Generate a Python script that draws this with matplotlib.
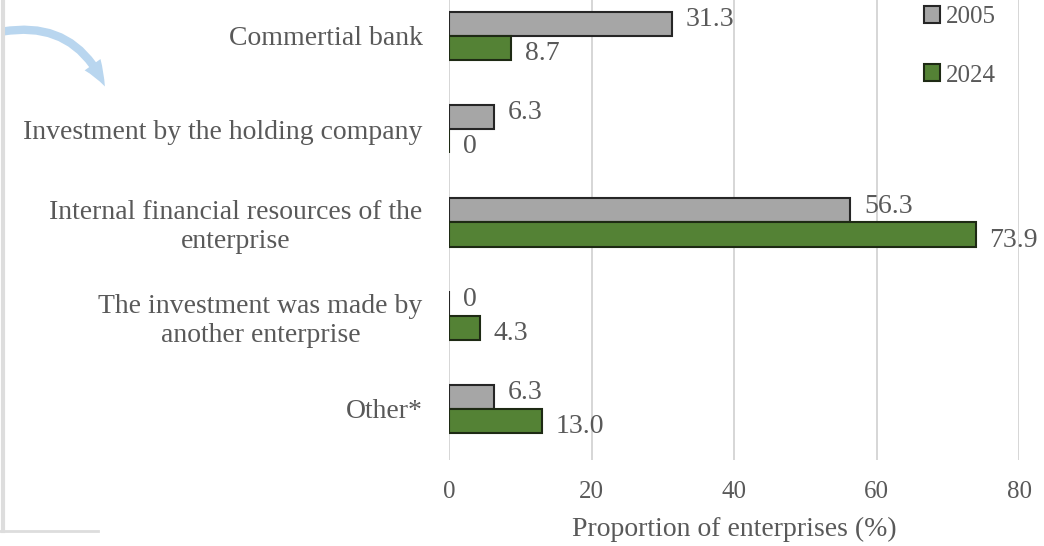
import matplotlib
matplotlib.use("Agg")
import matplotlib.pyplot as plt
import numpy as np

categories = [
    "Commertial bank",
    "Investment by the holding company",
    "Internal financial resources of the\nenterprise",
    "The investment was made by\nanother enterprise",
    "Other*",
]
share_2005 = [31.3, 6.3, 56.3, 0, 6.3]
share_2024 = [8.7, 0, 73.9, 4.3, 13.0]
labels_2005 = ["31.3", "6.3", "56.3", "0", "6.3"]
labels_2024 = ["8.7", "0", "73.9", "4.3", "13.0"]
xticks = [0, 20, 40, 60, 80]

GREY = "#a6a6a6"
GREEN = "#548235"
TXT = "#595959"
FS = 20
plt.rcParams["font.family"] = ["Liberation Serif", "DejaVu Serif"]

fig = plt.figure(figsize=(10.44, 5.46), dpi=100)
ax = fig.add_axes([449 / 1044, 86 / 546, 570 / 1044, 460 / 546])

y = np.arange(len(categories))
h = 0.26
ax.barh(y - h / 2, share_2005, height=h, color=GREY, edgecolor="#262626", lw=1.5, label="2005", zorder=3)
ax.barh(y + h / 2, share_2024, height=h, color=GREEN, edgecolor="#1e2a14", lw=1.5, label="2024", zorder=3)

for yi, v, s in zip(y, share_2005, labels_2005):
    ax.annotate(s, (v, yi - h / 2), xytext=(10, 3), textcoords="offset points",
                ha="left", va="center", fontsize=FS, color=TXT)
for yi, v, s in zip(y, share_2024, labels_2024):
    ax.annotate(s, (v, yi + h / 2), xytext=(10, -4), textcoords="offset points",
                ha="left", va="center", fontsize=FS, color=TXT)

ax.set_xlim(0, 80)
ax.set_ylim(4.547, -0.386)
ax.set_xticks(xticks)
ax.set_yticks(y)
ax.set_yticklabels(categories, multialignment="center")
ax.tick_params(axis="both", length=0, labelsize=FS, colors=TXT)
ax.tick_params(axis="x", labelsize=18, pad=15)
ax.tick_params(axis="y", pad=19)
ax.grid(axis="x", color="#d0d0d0", lw=1.2, zorder=0)
for sp in ax.spines.values():
    sp.set_visible(False)
ax.set_xlabel("Proportion of enterprises (%)", fontsize=FS, color=TXT, labelpad=10)

ax.legend(loc="upper left", bbox_to_anchor=(901 / 1044, 1.03), bbox_transform=fig.transFigure,
          frameon=False, fontsize=18, labelcolor=TXT, handlelength=0.65, handleheight=0.65,
          handletextpad=0.25, labelspacing=1.45)

# page edge and arrow overlay
fig.add_artist(plt.Line2D([3 / 1044, 3 / 1044], [15 / 546, 1], color="#dddddd", lw=3))
fig.add_artist(plt.Line2D([0, 98 / 1044], [15 / 546, 15 / 546], color="#dddddd", lw=2))
ax.annotate("", xy=(106 / 1044, 457 / 546), xytext=(0, 514 / 546),
            xycoords="figure fraction", textcoords="figure fraction",
            arrowprops=dict(arrowstyle="simple,head_width=1.4,head_length=1.8,tail_width=0.6",
                            connectionstyle="arc3,rad=-0.4", color="#b9d6ef", lw=0))

fig.savefig("out.png", dpi=100)
